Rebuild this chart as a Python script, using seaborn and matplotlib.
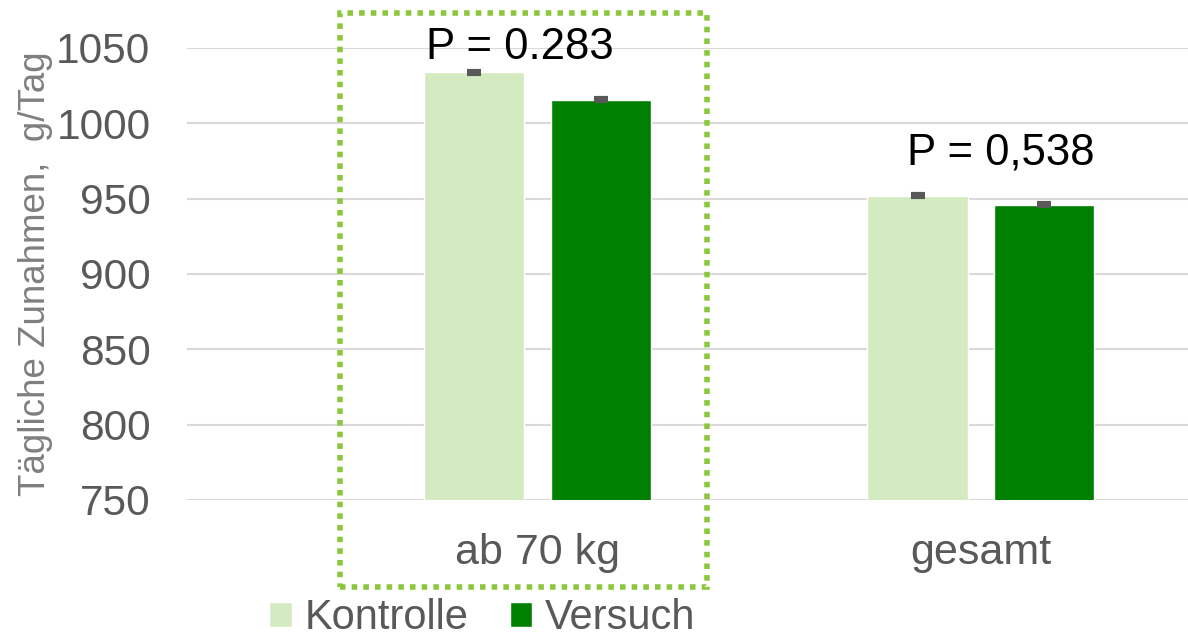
import pandas as pd
import seaborn as sns
import matplotlib.pyplot as plt
from matplotlib.patches import Rectangle

# data
groups = ['ab 70 kg', 'gesamt']
kontrolle = [1034, 952]
versuch = [1015.5, 946]
err_kontrolle = [1.0, 1.0]
err_versuch = [1.0, 1.0]
p_labels = ['P = 0.283', 'P = 0,538']
p_heights = [1050, 980]

df = pd.DataFrame({
    'Gruppe': groups * 2,
    'Behandlung': ['Kontrolle'] * 2 + ['Versuch'] * 2,
    'Zunahme': kontrolle + versuch,
})

sns.set_style('white')
plt.rcParams['font.family'] = ['Liberation Sans', 'DejaVu Sans']

fig = plt.figure(figsize=(11.88, 6.4), dpi=100)
ax = fig.add_axes([0.157, 0.219, 0.843, 0.706])

sns.barplot(data=df, x='Gruppe', y='Zunahme', hue='Behandlung',
            palette=['#d4eac1', '#008000'], saturation=1, width=0.572, gap=0.21,
            errorbar=None, ax=ax, legend=True, zorder=2)

# error bars from the bar positions
for cont, errs in zip(ax.containers, [err_kontrolle, err_versuch]):
    for bar, e in zip(cont, errs):
        xc = bar.get_x() + bar.get_width() / 2
        ax.errorbar(xc, bar.get_height(), yerr=e, color='#595959',
                    capsize=5, capthick=3, elinewidth=2.5, zorder=3)

for i, (lab, h) in enumerate(zip(p_labels, p_heights)):
    ax.text(i - 0.04 + 0.085 * i, h, lab, ha='center', va='center',
            fontsize=31.5, color='black', clip_on=False)

ax.set_ylim(750, 1050)
ax.set_yticks(range(750, 1051, 50))
ax.set_xlim(-0.792, 1.467)
ax.yaxis.grid(True, color='#d9d9d9', linewidth=1.5)
ax.set_axisbelow(True)
for s in ax.spines.values():
    s.set_visible(False)
ax.tick_params(axis='y', labelsize=30.5, labelcolor='#595959', length=0, pad=26)
ax.tick_params(axis='x', labelsize=31, labelcolor='#595959', length=0, pad=24)
ax.set_xlabel('')
ax.set_ylabel('Tägliche Zunahmen,  g/Tag', fontsize=26.5, color='#7f7f7f', labelpad=2)

handles, labels = ax.get_legend_handles_labels()
ax.legend(handles, labels, loc='center', bbox_to_anchor=(0.406, 0.034),
          bbox_transform=fig.transFigure, ncol=2, frameon=False,
          fontsize=30, labelcolor='#595959', handlelength=0.54,
          handleheight=0.54, handletextpad=0.3, columnspacing=1.0,
          borderpad=0)

# dotted highlight box around the first group
fig.patches.append(Rectangle((340 / 1188, 1 - 587 / 640), 367 / 1188, 574 / 640,
                             transform=fig.transFigure, fill=False,
                             edgecolor='#8cc63f', linewidth=4,
                             linestyle=(0, (1, 1.1))))

fig.savefig('out.png', dpi=100)
